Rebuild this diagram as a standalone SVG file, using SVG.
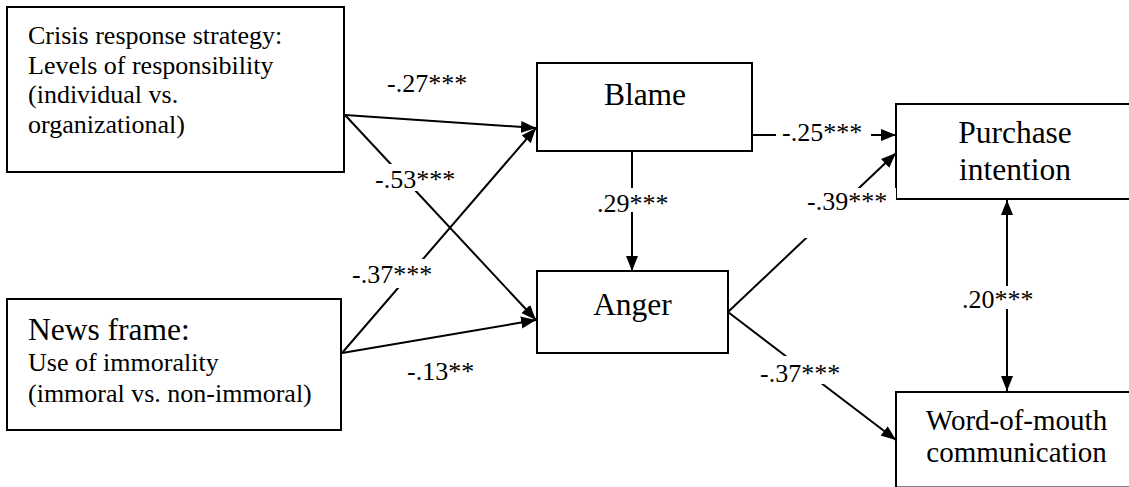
<svg xmlns="http://www.w3.org/2000/svg" width="1129" height="487" viewBox="0 0 1129 487">
<style>
  .box{fill:#fff;stroke:#000;stroke-width:2}
  .t{font-family:'Liberation Serif','Times New Roman',Times,'DejaVu Serif',serif;font-size:26px;fill:#000}
  .big{font-size:31.5px}
  .mid{font-size:29px}
  .c{text-anchor:middle}
  .ln{stroke:#000;stroke-width:2;fill:none}
  .bg{fill:#fff;stroke:none}
</style>
<defs>
  <marker id="ah" markerUnits="userSpaceOnUse" markerWidth="16" markerHeight="13" refX="15" refY="6" orient="auto-start-reverse" viewBox="0 0 16 12">
    <path d="M0,0 L15,6 L0,12 z" fill="#000"/>
  </marker>
</defs>
<rect width="1129" height="487" fill="#fff"/>

<g id="crisis">
  <rect class="box" x="7" y="7" width="337" height="165"/>
  <text class="t" x="28" y="43.5">Crisis response strategy:</text>
  <text class="t" x="28" y="73.5">Levels of responsibility</text>
  <text class="t" x="28" y="103">(individual vs.</text>
  <text class="t" x="28" y="132.5">organizational)</text>
</g>
<g id="news">
  <rect class="box" x="7" y="299" width="334" height="131"/>
  <text class="t big" x="28" y="340">News frame:</text>
  <text class="t" x="28" y="371">Use of immorality</text>
  <text class="t" x="28" y="402">(immoral vs. non-immoral)</text>
</g>
<g id="blame">
  <rect class="box" x="537" y="63" width="215" height="88"/>
  <text class="t big c" x="645" y="105">Blame</text>
</g>
<g id="anger">
  <rect class="box" x="537" y="271" width="191" height="82"/>
  <text class="t big c" x="632.5" y="315">Anger</text>
</g>
<g id="purchase">
  <rect class="box" x="896" y="104" width="240" height="95"/>
  <text class="t big c" x="1015" y="143">Purchase</text>
  <text class="t big c" x="1015" y="180">intention</text>
</g>
<g id="wom">
  <rect class="box" x="896" y="392" width="240" height="95.5"/>
  <text class="t mid c" x="1016.5" y="430">Word-of-mouth</text>
  <text class="t mid c" x="1016.5" y="462">communication</text>
</g>

<g id="connectors">
  <line class="ln" x1="345" y1="115" x2="536" y2="128" marker-end="url(#ah)"/>
  <line class="ln" x1="345" y1="115" x2="536" y2="320" marker-end="url(#ah)"/>
  <line class="ln" x1="342" y1="353" x2="536" y2="128" marker-end="url(#ah)"/>
  <line class="ln" x1="342" y1="353" x2="536" y2="320" marker-end="url(#ah)"/>
  <line class="ln" x1="632" y1="151" x2="632" y2="271" marker-end="url(#ah)"/>
  <line class="ln" x1="752" y1="135" x2="896" y2="135" marker-end="url(#ah)"/>
  <line class="ln" x1="728" y1="312" x2="896" y2="153" marker-end="url(#ah)"/>
  <line class="ln" x1="728" y1="312" x2="896" y2="440" marker-end="url(#ah)"/>
  <line class="ln" x1="1007" y1="200" x2="1007" y2="391" marker-start="url(#ah)" marker-end="url(#ah)"/>
</g>

<g id="labels">
  <rect class="bg" x="385" y="70" width="84" height="26"/>
  <text class="t" x="387" y="92">-.27***</text>
  <rect class="bg" x="373" y="164" width="85" height="27"/>
  <text class="t" x="375" y="188">-.53***</text>
  <rect class="bg" x="350" y="259" width="84" height="29"/>
  <text class="t" x="352" y="283">-.37***</text>
  <rect class="bg" x="405" y="358" width="70" height="26"/>
  <text class="t" x="407" y="380">-.13**</text>
  <rect class="bg" x="595" y="188" width="74" height="24"/>
  <text class="t" x="597" y="212">.29***</text>
  <rect class="bg" x="776" y="120" width="95" height="24"/>
  <text class="t" x="782" y="141">-.25***</text>
  <rect class="bg" x="800" y="188" width="96" height="50"/>
  <text class="t" x="807" y="210">-.39***</text>
  <rect class="bg" x="758" y="356" width="82" height="28"/>
  <text class="t" x="760" y="382">-.37***</text>
  <rect class="bg" x="960" y="286" width="76" height="23"/>
  <text class="t" x="962" y="308">.20***</text>
</g>
</svg>
